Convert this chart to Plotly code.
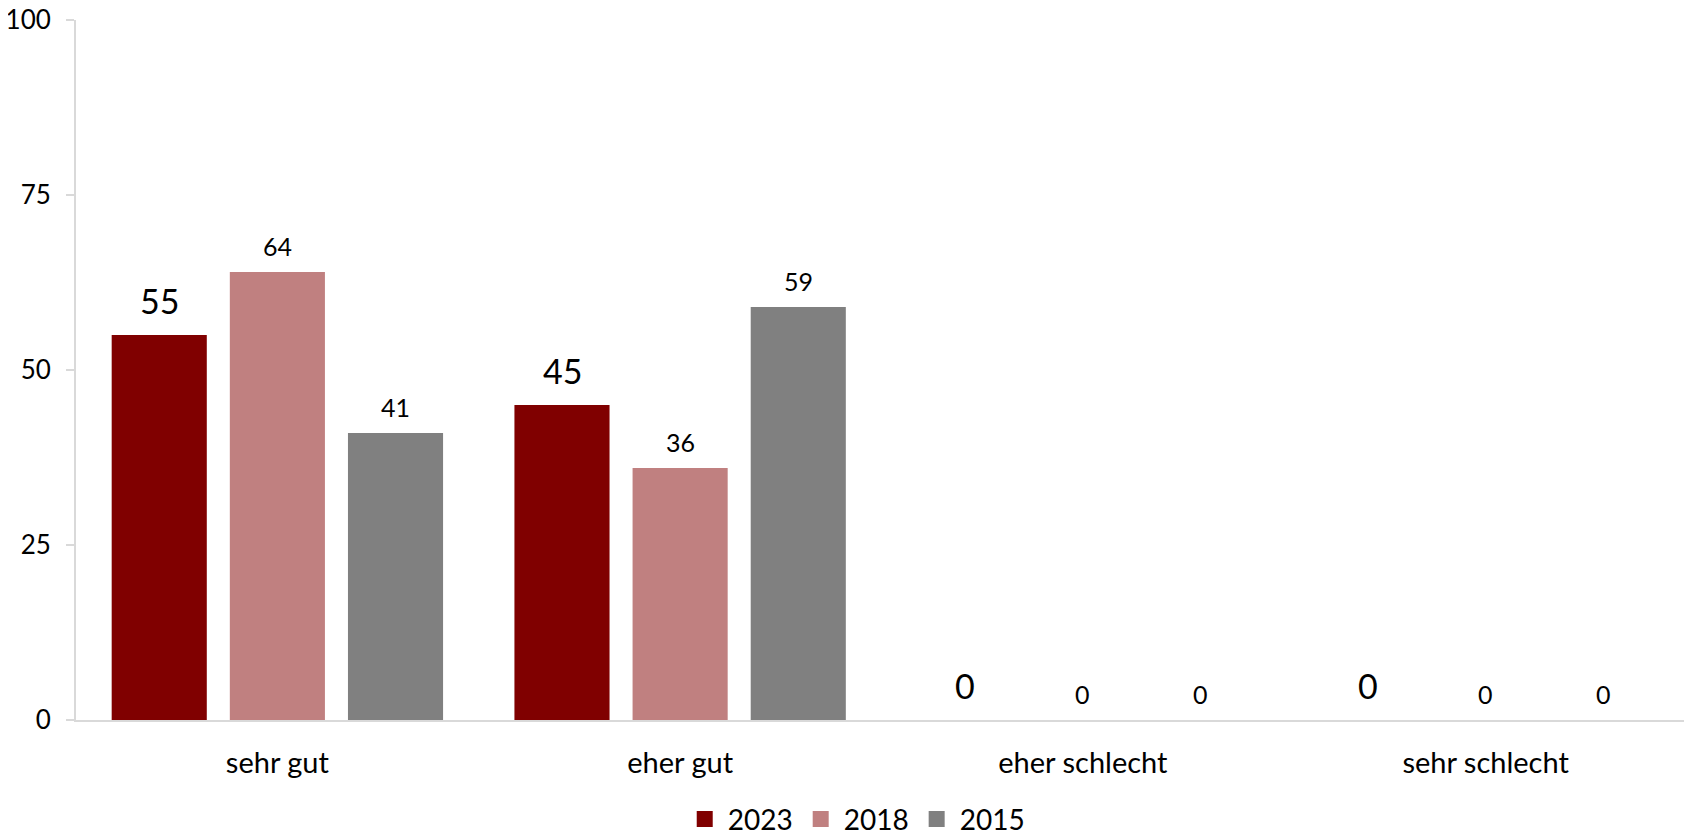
import plotly.graph_objects as go

categories = ["sehr gut", "eher gut", "eher schlecht", "sehr schlecht"]
series_names = ["2023", "2018", "2015"]
values_2023 = [55, 45, 0, 0]
values_2018 = [64, 36, 0, 0]
values_2015 = [41, 59, 0, 0]
y_ticks = [0, 25, 50, 75, 100]

colors = ["#800000", "#C08080", "#808080"]
series_values = [values_2023, values_2018, values_2015]
label_sizes = [34, 25, 25]
label_shift = [12, 9, 9]
x_shift = [-118, 0, 118]

FONT = "Lato, Carlito, Calibri, sans-serif"

fig = go.Figure()
for name, vals, col in zip(series_names, series_values, colors):
    fig.add_trace(go.Bar(x=categories, y=vals, name=name, marker_color=col,
                         marker_line_width=0, cliponaxis=False, showlegend=False))

# legend entries with larger square swatches
for name, col in zip(series_names, colors):
    fig.add_trace(go.Scatter(x=[None], y=[None], mode="markers", name=name,
                             marker=dict(symbol="square", size=20, color=col),
                             showlegend=True))

for j, vals in enumerate(series_values):
    for cat, v in zip(categories, vals):
        fig.add_annotation(x=cat, y=v, text=str(v), showarrow=False,
                           xref="x", yref="y", yanchor="bottom",
                           xshift=x_shift[j], yshift=label_shift[j],
                           font=dict(family=FONT, size=label_sizes[j], color="#000000"))

fig.update_layout(
    width=1684, height=829,
    margin=dict(l=68, r=5, t=12, b=117, autoexpand=False),
    plot_bgcolor="white", paper_bgcolor="white",
    barmode="group", bargap=0.12, bargroupgap=0.195,
    font=dict(family=FONT, color="#000000"),
    showlegend=True,
    legend=dict(orientation="h", x=0.484, xanchor="center", y=-0.142, yanchor="middle",
                font=dict(size=28), itemwidth=36, traceorder="normal", itemsizing="trace"),
)
fig.update_yaxes(range=[0, 100], tickvals=y_ticks, showgrid=False, zeroline=False,
                 showline=True, linecolor="#D9D9D9", linewidth=2,
                 ticks="outside", ticklen=8, tickcolor="#D9D9D9", tickwidth=2,
                 tickfont=dict(size=26), ticklabelstandoff=10, automargin=False,
                 ticklabeloverflow="allow")
fig.update_xaxes(showgrid=False, zeroline=False, showline=True, linecolor="#D9D9D9",
                 linewidth=2, ticks="", tickfont=dict(size=29), ticklabelstandoff=16,
                 automargin=False, ticklabeloverflow="allow")

fig.write_html("out.html")
